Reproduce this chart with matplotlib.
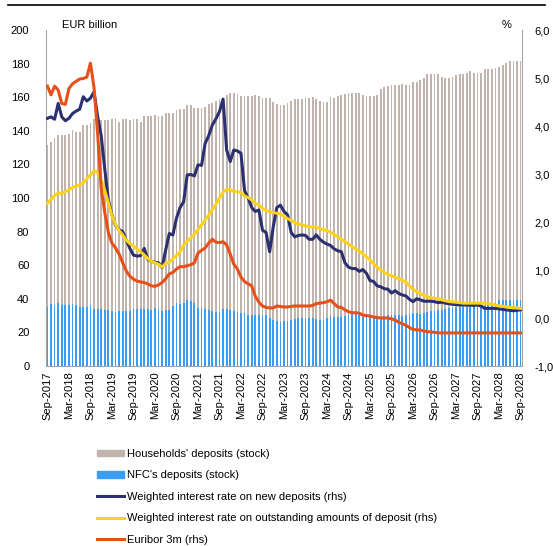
import numpy as np
import matplotlib.pyplot as plt
from matplotlib.patches import Patch
from matplotlib.lines import Line2D

plt.rcParams['font.family'] = ['Liberation Sans', 'DejaVu Sans']
plt.rcParams['font.size'] = 8

# monthly data, Sep-2017 .. Sep-2028 (133 months)
households = [131.5, 133.5, 135.7, 137.5, 137.5, 137.5, 138, 140.5, 139.5, 139.5,
              143.5, 143.5, 144.8, 146.8, 146.5, 146.4, 146.4, 146.4, 147, 147.4,
              145, 147, 147, 146.5, 147, 147, 145.4, 148.8, 148.8, 148.8,
              149.4, 149, 148.8, 150.6, 150.6, 150.6, 152.4, 152.8, 153, 155.4,
              155.4, 153.6, 153.6, 153.6, 154.4, 156, 156.4, 157.7, 158.7, 159.5,
              161.3, 162.3, 162.3, 161.7, 160.7, 160.7, 160.7, 161, 161.3, 160.5,
              159.3, 159.3, 159.3, 157, 156, 155.4, 155.6, 156.3, 158, 159,
              159, 159, 159.3, 159.5, 160, 159, 157.8, 157.3, 157, 160,
              159.3, 160.5, 161.3, 162, 162.3, 162.3, 162.5, 162.3, 161.3, 160.7,
              160.7, 161, 161.5, 165, 166.3, 166.5, 167.3, 167.3, 167.5, 168,
              167.3, 167.3, 169.2, 169.2, 170.5, 171.2, 173.6, 173.6, 173.6, 173.6,
              172.2, 171.5, 171.2, 172, 173, 173.6, 173.6, 174.6, 175.8, 174.6,
              174.6, 174.6, 176.6, 176.6, 176.6, 177.2, 178, 179, 180.5, 181.7,
              181.7, 181.7, 181.3]

nfc = [35.3, 36.7, 36, 37.3, 36.2, 36.5, 36.5, 36.7, 36.5, 35,
       35.3, 35.3, 36, 34.2, 34.2, 34, 33.3, 33.3, 32.5, 32.3,
       32.8, 33, 32.5, 33, 34, 33.8, 34, 34, 33.8, 33.3,
       34.5, 34, 33, 33.3, 33.3, 36, 37.7, 37, 37.7, 39.3,
       38.8, 37.5, 34.5, 34.3, 33.8, 33.3, 32.7, 32.3, 32, 34,
       34, 33.5, 32.7, 32, 31.7, 31.7, 30.2, 30.2, 30.2, 30.2,
       30.2, 30.4, 28.5, 27.4, 26.8, 26.4, 26.6, 26.8, 27.2, 27.8,
       28.3, 28.4, 28.5, 28.6, 28.3, 28, 27.4, 27.2, 28.5, 30,
       29.4, 29.4, 29.4, 30, 30.8, 30.8, 30.8, 30.5, 29.4, 29.4,
       29.2, 29.2, 29, 29, 29.5, 30.4, 30.4, 30.4, 30.2, 29.8,
       30.2, 30.8, 31.3, 31.3, 31, 31.5, 32.2, 32.7, 32.8, 33.2,
       33.3, 33.8, 34.3, 34.5, 35, 35.3, 35.3, 35.3, 35.3, 35.5,
       35.7, 35.7, 36, 36.3, 36.3, 37.5, 39, 39.3, 39.3, 39.3,
       39.3, 39.3, 39.5]

rate_new = [4.16, 4.19, 4.14, 4.47, 4.19, 4.11, 4.16, 4.26, 4.31, 4.35,
            4.61, 4.52, 4.58, 4.71, 4.2, 3.8, 3.1, 2.46, 2.15, 1.93,
            1.84, 1.80, 1.62, 1.45, 1.31, 1.29, 1.30, 1.45, 1.22, 1.18,
            1.16, 1.15, 1.05, 1.42, 1.76, 1.73, 2.08, 2.3, 2.42, 2.98,
            2.99, 2.96, 3.19, 3.18, 3.64, 3.80, 4.02, 4.15, 4.30, 4.56,
            3.5, 3.26, 3.5, 3.48, 3.43, 2.65, 2.5, 2.3, 2.22, 2.25,
            1.83, 1.78, 1.38, 1.9, 2.3, 2.35, 2.22, 2.15, 1.78, 1.69,
            1.72, 1.73, 1.72, 1.64, 1.64, 1.73, 1.64, 1.58, 1.54, 1.51,
            1.44, 1.40, 1.38, 1.15, 1.06, 1.03, 1.03, 0.97, 1.01, 0.93,
            0.78, 0.76, 0.67, 0.65, 0.61, 0.60, 0.52, 0.57, 0.51, 0.48,
            0.46, 0.39, 0.34, 0.40, 0.38, 0.35, 0.35, 0.35, 0.34, 0.32,
            0.33, 0.31, 0.30, 0.285, 0.28, 0.27, 0.27, 0.27, 0.265, 0.265,
            0.27, 0.25, 0.20, 0.20, 0.20, 0.20, 0.19, 0.18, 0.17, 0.16,
            0.15, 0.16, 0.17]

rate_outst = [2.39, 2.47, 2.55, 2.60, 2.60, 2.63, 2.67, 2.72, 2.75, 2.77,
              2.82, 2.90, 2.98, 3.07, 3.03, 2.88, 2.65, 2.40, 2.13, 1.95,
              1.82, 1.73, 1.62, 1.55, 1.50, 1.43, 1.38, 1.31, 1.24, 1.18,
              1.15, 1.12, 1.06, 1.14, 1.16, 1.23, 1.30, 1.38, 1.52, 1.60,
              1.67, 1.74, 1.84, 1.94, 2.04, 2.14, 2.26, 2.37, 2.50, 2.62,
              2.68, 2.67, 2.64, 2.63, 2.62, 2.54, 2.51, 2.46, 2.39, 2.35,
              2.29, 2.24, 2.21, 2.20, 2.18, 2.17, 2.12, 2.07, 2.03, 1.99,
              1.96, 1.94, 1.92, 1.90, 1.90, 1.89, 1.87, 1.84, 1.82, 1.79,
              1.74, 1.69, 1.64, 1.59, 1.54, 1.49, 1.44, 1.39, 1.34, 1.27,
              1.21, 1.13, 1.06, 1.00, 0.95, 0.91, 0.88, 0.85, 0.82, 0.79,
              0.75, 0.67, 0.60, 0.55, 0.51, 0.47, 0.44, 0.42, 0.41, 0.40,
              0.38, 0.36, 0.345, 0.335, 0.33, 0.32, 0.31, 0.31, 0.31, 0.31,
              0.31, 0.31, 0.31, 0.30, 0.29, 0.27, 0.25, 0.245, 0.23, 0.22,
              0.215, 0.21, 0.20]

euribor = [4.83, 4.65, 4.83, 4.75, 4.47, 4.45, 4.78, 4.88, 4.93, 4.98,
           4.99, 5.02, 5.31, 4.8, 3.85, 2.7, 2.2, 1.78, 1.56, 1.46,
           1.33, 1.15, 0.98, 0.87, 0.81, 0.77, 0.75, 0.74, 0.71, 0.67,
           0.66, 0.69, 0.74, 0.82, 0.92, 0.95, 1.02, 1.07, 1.07, 1.09,
           1.11, 1.15, 1.35, 1.41, 1.46, 1.56, 1.64, 1.58, 1.57, 1.59,
           1.52, 1.33, 1.12, 1.02, 0.85, 0.76, 0.71, 0.67, 0.45, 0.33,
           0.25, 0.22, 0.21, 0.21, 0.25, 0.24, 0.23, 0.23, 0.24, 0.25,
           0.25, 0.25, 0.25, 0.25, 0.26, 0.30, 0.31, 0.32, 0.34, 0.37,
           0.30, 0.23, 0.22, 0.17, 0.13, 0.11, 0.11, 0.10, 0.06, 0.05,
           0.04, 0.02, 0.01, 0.0, 0.0, 0.0, -0.02, -0.04, -0.09, -0.12,
           -0.15, -0.2, -0.24, -0.245, -0.25, -0.27, -0.285, -0.29, -0.3, -0.31,
           -0.31, -0.31, -0.31, -0.31, -0.31, -0.31, -0.31, -0.31, -0.31, -0.31,
           -0.31, -0.31, -0.31, -0.31, -0.31, -0.31, -0.31, -0.31, -0.31, -0.31,
           -0.31, -0.31, -0.31]

tick_labels = ['Sep-2017', 'Mar-2018', 'Sep-2018', 'Mar-2019', 'Sep-2019', 'Mar-2020',
               'Sep-2020', 'Mar-2021', 'Sep-2021', 'Mar-2022', 'Sep-2022', 'Mar-2023',
               'Sep-2023', 'Mar-2024', 'Sep-2024', 'Mar-2025', 'Sep-2025', 'Mar-2026',
               'Sep-2026', 'Mar-2027', 'Sep-2027', 'Mar-2028', 'Sep-2028']

c_hh = '#C0B4AC'
c_nfc = '#3A9CF2'
c_new = '#2B3170'
c_out = '#FFD21A'
c_eur = '#E8501A'
grey = '#A6A6A6'

x = np.arange(len(households))

fig = plt.figure(figsize=(5.53, 5.46), dpi=100)
ax = fig.add_axes([46/553, 1-366/546, 476/553, 336/546])
ax.bar(x, households, width=0.5, color=c_hh, linewidth=0)
ax.bar(x, nfc, width=0.5, color=c_nfc, linewidth=0)
ax.set_ylim(0, 200)
ax.set_yticks(np.arange(0, 201, 20))
ax.set_xlim(-0.4, len(x) - 0.6)
ax.set_xticks(np.arange(0, len(x), 6))
ax.set_xticklabels(tick_labels, rotation=90)
ax.tick_params(axis='both', length=0, labelsize=8)
ax.tick_params(axis='y', pad=12)
ax.tick_params(axis='x', pad=4)
ax.spines['top'].set_visible(False)
ax.spines['right'].set_visible(False)
for s in ['left', 'bottom']:
    ax.spines[s].set_color(grey)

ax2 = ax.twinx()
ax2.plot(x, rate_new, color=c_new, lw=2.2)
ax2.plot(x, rate_outst, color=c_out, lw=2.2)
ax2.plot(x, euribor, color=c_eur, lw=2.2)
ax2.set_ylim(-1, 6)
ax2.set_yticks(np.arange(-1, 7, 1))
ax2.set_yticklabels([('%.1f' % v).replace('.', ',') for v in np.arange(-1, 7, 1)])
ax2.tick_params(axis='y', length=0, labelsize=8, pad=9)
ax2.spines['top'].set_visible(False)
ax2.spines['left'].set_visible(False)
ax2.spines['bottom'].set_visible(False)
ax2.spines['right'].set_color(grey)

fig.text(62/553, 1-25/546, 'EUR billion', fontsize=8, va='center')
fig.text(502/553, 1-25/546, '%', fontsize=8, va='center')
fig.add_artist(Line2D([8/553, 545/553], [1-5/546, 1-5/546], color='black', lw=1.2))

handles = [Patch(color=c_hh), Patch(color=c_nfc),
           Line2D([], [], color=c_new, lw=2.2),
           Line2D([], [], color=c_out, lw=2.2),
           Line2D([], [], color=c_eur, lw=2.2)]
labels = ["Households' deposits (stock)", "NFC's deposits (stock)",
          'Weighted interest rate on new deposits (rhs)',
          'Weighted interest rate on outstanding amounts of deposit (rhs)',
          'Euribor 3m (rhs)']
fig.legend(handles, labels, loc='upper left', bbox_to_anchor=(97/553, 1-449/546),
           frameon=False, fontsize=8, handlelength=2.45, handleheight=0.55,
           handletextpad=0.25, labelspacing=1.03, borderaxespad=0, borderpad=0)

fig.savefig('out.png', dpi=100)
